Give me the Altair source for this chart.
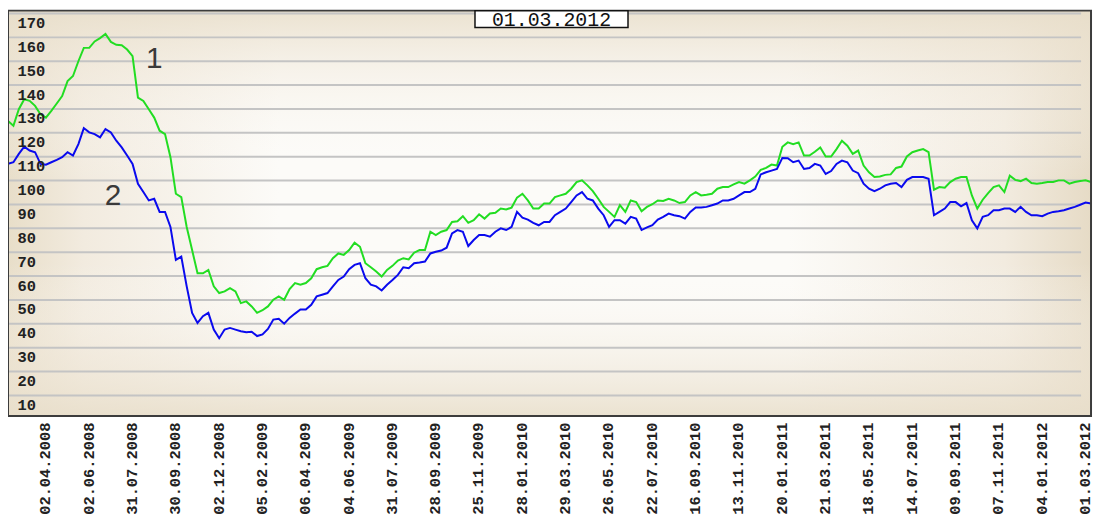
import altair as alt
import pandas as pd

# ---- data ----
dates = ["02.04.2008", "02.06.2008", "31.07.2008", "30.09.2008", "02.12.2008",
         "05.02.2009", "06.04.2009", "04.06.2009", "31.07.2009", "28.09.2009",
         "25.11.2009", "28.01.2010", "29.03.2010", "26.05.2010", "22.07.2010",
         "16.09.2010", "13.11.2010", "20.01.2011", "21.03.2011", "18.05.2011",
         "14.07.2011", "09.09.2011", "07.11.2011", "04.01.2012", "01.03.2012"]

# one value every 5 trading days
series1 = [
    125.0, 123.0, 129.9, 134.1, 133.4, 131.3, 127.8, 126.4, 129.2, 132.3,
    135.4, 141.7, 143.8, 150.0, 155.6, 155.6, 158.3, 159.7, 161.4, 158.1,
    156.9, 156.7, 154.9, 152.1, 134.8, 133.4, 129.9, 126.4, 120.9, 119.5,
    109.8, 94.5, 93.1, 80.6, 70.9, 61.2, 61.2, 62.6, 55.7, 52.9,
    53.6, 55.0, 53.6, 48.7, 49.4, 47.3, 44.6, 45.7, 47.3, 50.1,
    51.5, 50.1, 54.6, 57.1, 56.4, 57.1, 59.1, 62.9, 63.7, 64.3,
    67.5, 69.5, 68.9, 70.9, 74.0, 72.3, 65.4, 63.7, 61.9, 59.8,
    62.6, 64.3, 66.5, 67.5, 67.0, 69.8, 70.9, 70.9, 78.6, 77.2,
    78.6, 79.3, 82.7, 83.0, 85.1, 82.3, 83.4, 85.9, 84.1, 86.2,
    86.5, 88.3, 87.9, 88.7, 92.9, 94.5, 91.7, 88.3, 88.3, 90.4,
    90.4, 93.1, 93.8, 94.5, 96.6, 99.4, 100.1, 98.0, 95.6, 92.4,
    89.0, 86.9, 84.8, 89.7, 86.9, 91.7, 91.0, 87.2, 89.0, 90.1,
    91.7, 91.5, 92.4, 91.7, 90.6, 91.0, 93.8, 95.2, 93.8, 94.1,
    94.5, 96.6, 97.3, 97.3, 98.4, 99.4, 98.7, 100.1, 101.7, 104.5,
    105.3, 106.7, 106.3, 114.2, 116.0, 115.3, 116.0, 110.5, 110.5, 112.1,
    113.9, 110.1, 110.1, 113.2, 116.7, 114.6, 111.2, 112.6, 106.3, 103.5,
    101.5, 101.7, 102.4, 102.6, 105.3, 105.9, 110.1, 111.9, 112.6, 113.2,
    111.9, 96.2, 97.3, 97.0, 99.4, 100.8, 101.5, 101.5, 93.8, 88.3,
    92.0, 94.8, 97.3, 98.0, 95.2, 102.1, 100.3, 99.8, 100.8, 99.0,
    98.7, 99.0, 99.4, 99.4, 100.1, 100.1, 98.7, 99.4, 99.8, 100.1,
    99.4]

series2 = [
    107.0, 107.7, 111.2, 114.2, 112.6, 111.9, 107.0, 106.7, 107.7, 108.7,
    109.8, 111.9, 110.5, 115.3, 122.0, 120.2, 119.5, 118.1, 121.6, 120.2,
    116.7, 113.9, 110.5, 107.0, 98.7, 95.2, 91.7, 92.4, 86.9, 86.9,
    80.6, 66.8, 68.2, 55.7, 44.6, 40.4, 43.2, 44.6, 37.6, 34.0,
    37.6, 38.3, 37.6, 36.9, 36.5, 36.7, 34.9, 35.6, 37.9, 41.8,
    42.1, 40.1, 42.5, 44.3, 46.0, 46.0, 48.0, 51.5, 52.2, 52.9,
    55.7, 58.4, 59.8, 62.9, 64.7, 65.4, 59.1, 56.4, 55.7, 54.0,
    56.4, 58.4, 60.5, 63.7, 63.3, 65.4, 65.7, 66.1, 69.5, 70.2,
    70.7, 71.9, 77.9, 79.3, 78.6, 72.6, 75.1, 77.2, 77.2, 76.5,
    78.6, 80.0, 79.3, 80.6, 86.9, 84.5, 83.7, 82.3, 81.3, 82.7,
    82.7, 85.5, 86.9, 88.3, 91.0, 93.8, 95.2, 92.4, 91.7, 88.3,
    85.5, 80.6, 83.4, 83.4, 82.0, 84.8, 84.1, 79.3, 80.4, 81.3,
    83.7, 84.8, 86.2, 85.5, 85.1, 84.1, 86.9, 88.7, 88.7, 89.0,
    89.7, 90.4, 91.7, 91.7, 92.4, 93.8, 95.2, 95.2, 96.6, 102.6,
    103.5, 104.2, 104.9, 109.5, 109.4, 107.7, 108.4, 104.9, 105.3, 107.0,
    106.3, 102.8, 104.0, 107.0, 108.4, 107.7, 104.2, 103.1, 98.7, 96.6,
    95.6, 96.6, 98.0, 98.7, 99.0, 97.3, 100.3, 101.5, 101.5, 101.5,
    100.8, 85.5, 86.9, 88.3, 91.0, 91.0, 89.2, 90.6, 83.4, 80.0,
    84.8, 85.5, 87.6, 87.6, 88.3, 88.3, 86.9, 89.0, 86.9, 85.5,
    85.5, 85.1, 86.2, 86.9, 87.2, 87.6, 88.3, 89.0, 89.9, 90.8,
    90.4]

y_ticks = [10, 20, 30, 40, 50, 60, 70, 80, 90, 100, 110, 120, 130, 140, 150, 160, 170]
series_names = ["1", "2"]
name_idx = [135, 97]
name_val = [151.0, 93.4]

STEP = 5            # trading days between stored values
FIRST_TICK = 34     # trading-day index of first date label
TICK_EVERY = 40     # trading days between date labels

# ---- tables ----
idx = [i * STEP for i in range(len(series1))]
df1 = pd.DataFrame({"idx": idx, "value": series1})
df2 = pd.DataFrame({"idx": idx, "value": series2})
tick_pos = [FIRST_TICK + TICK_EVERY * k for k in range(len(dates))]
grid_df = pd.DataFrame({"idx": [0] * len(y_ticks), "value": y_ticks})
names_df = pd.DataFrame({"idx": name_idx, "value": name_val, "name": series_names})

W, H = 1090, 408
xs = alt.Scale(domain=[0, 1000], nice=False, zero=False)
ys = alt.Scale(domain=[1.4, 171.2], nice=False, zero=False)

label_array = "[" + ",".join("'%s'" % d for d in dates) + "]"


def x_axis():
    return alt.Axis(values=tick_pos,
                    labelExpr=label_array + "[round((datum.value-%d)/%d)]" % (FIRST_TICK, TICK_EVERY),
                    labelAngle=270, labelFont="Liberation Mono", labelFontWeight="bold",
                    labelFontSize=15.5, labelColor="#222222", labelPadding=6, ticks=False,
                    tickSize=0, domain=False, grid=False, title=None, labelOverlap=False,
                    labelFlush=False, zindex=1)


def y_axis():
    return alt.Axis(values=y_ticks, labelAlign="left", labelPadding=-9, labelBaseline="middle",
                    labelOffset=9, labelFont="Liberation Mono", labelFontWeight="bold",
                    labelFontSize=15.5, labelColor="#222222", ticks=False, tickSize=0, domain=False,
                    grid=False, title=None, labelOverlap=False, labelFlush=False, zindex=1)


def X():
    return alt.X("idx:Q", scale=xs, axis=x_axis())


def Y():
    return alt.Y("value:Q", scale=ys, axis=y_axis())


one = alt.Data(values=[{}])

bg_h = alt.Chart(one).mark_rect(
    fill=alt.LinearGradient(gradient="linear", x1=0, x2=1, y1=0, y2=0, stops=[
        alt.GradientStop(offset=0, color="#e8dec9"),
        alt.GradientStop(offset=0.07, color="#f2ebdf"),
        alt.GradientStop(offset=0.25, color="#fcfbf8"),
        alt.GradientStop(offset=0.72, color="#fcfbf8"),
        alt.GradientStop(offset=0.92, color="#f2ebdf"),
        alt.GradientStop(offset=1, color="#e6dbc6")])
).encode(x=alt.value(0), x2=alt.value(W), y=alt.value(0), y2=alt.value(H))

bg_v = alt.Chart(one).mark_rect(
    fill=alt.LinearGradient(gradient="linear", x1=0, x2=0, y1=0, y2=1, stops=[
        alt.GradientStop(offset=0, color="rgba(232,222,202,0.85)"),
        alt.GradientStop(offset=0.15, color="rgba(240,232,218,0.45)"),
        alt.GradientStop(offset=0.42, color="rgba(255,255,255,0)"),
        alt.GradientStop(offset=0.62, color="rgba(255,255,255,0)"),
        alt.GradientStop(offset=0.85, color="rgba(240,232,218,0.45)"),
        alt.GradientStop(offset=1, color="rgba(232,222,202,0.85)")])
).encode(x=alt.value(0), x2=alt.value(W), y=alt.value(0), y2=alt.value(H))

grid = alt.Chart(grid_df).mark_rule(color="#c4c4c4", strokeWidth=2).encode(
    y=Y(), x=alt.value(0), x2=alt.value(W - 10))

line1 = alt.Chart(df1).mark_line(color="#22dd22", strokeWidth=2, interpolate="linear").encode(x=X(), y=Y())
line2 = alt.Chart(df2).mark_line(color="#0a0aee", strokeWidth=2, interpolate="linear").encode(x=X(), y=Y())

names = alt.Chart(names_df).mark_text(font="Liberation Sans", fontSize=30, color="#3a3a3a",
                                      align="center", baseline="middle").encode(
    x=X(), y=Y(), text="name:N")

frame = alt.Chart(one).mark_rect(fillOpacity=0, stroke="#3c3c3c", strokeWidth=2).encode(
    x=alt.value(0), x2=alt.value(W), y=alt.value(0), y2=alt.value(H))

date_box = alt.Chart(one).mark_rect(fill="white", stroke="#111111", strokeWidth=1.5).encode(
    x=alt.value(470), x2=alt.value(624), y=alt.value(0), y2=alt.value(17))
date_text = alt.Chart(one).mark_text(font="Liberation Mono", fontSize=20, color="#111111",
                                     align="center", baseline="middle").encode(
    x=alt.value(547), y=alt.value(9), text=alt.value(dates[-1]))

chart = alt.layer(bg_h, bg_v, grid, line1, line2, names, frame, date_box, date_text).properties(
    width=W, height=H,
    autosize=alt.AutoSizeParams(type="none"),
    padding={"left": 0, "top": 1, "right": 3, "bottom": 102},
    background="white"
).configure_view(stroke=None)

chart.save("out.html", embed_options={"renderer": "svg", "actions": False})
